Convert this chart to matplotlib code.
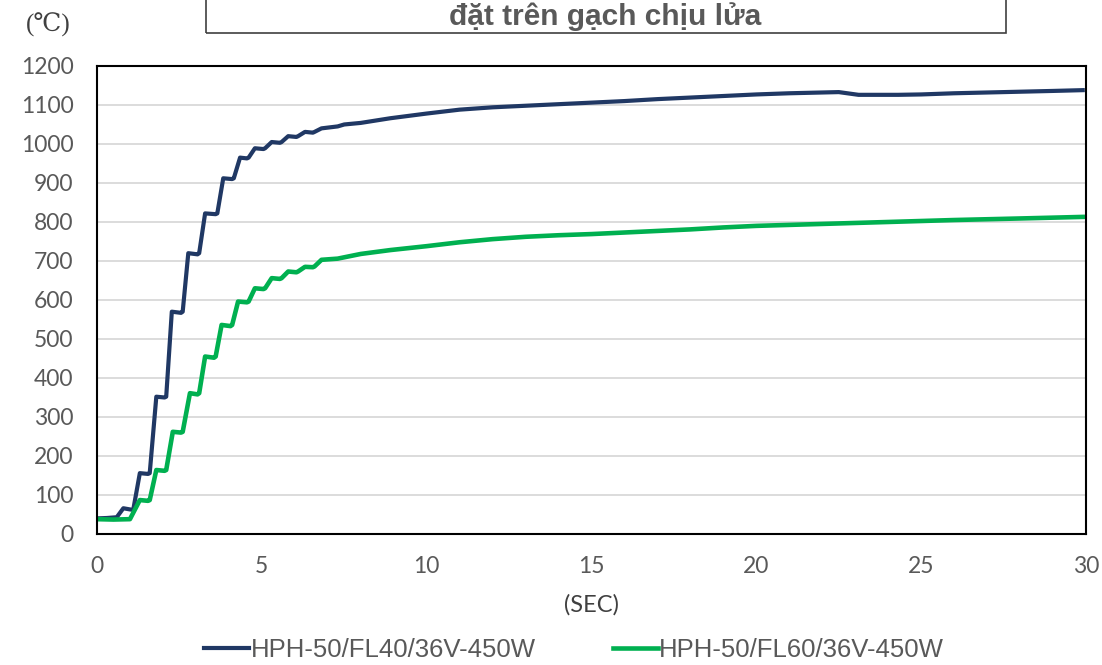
import matplotlib
matplotlib.use("Agg")
import matplotlib.pyplot as plt
from matplotlib.patches import Rectangle

# time (s) / temperature (C)
t_fl40 = [0, 0.3, 0.6, 0.8, 1.0, 1.1, 1.3, 1.55, 1.6, 1.8, 2.05, 2.1, 2.27, 2.55, 2.6,
          2.77, 3.05, 3.1, 3.28, 3.6, 3.65, 3.83, 4.1, 4.15, 4.34, 4.55, 4.6, 4.79, 5.05,
          5.1, 5.3, 5.55, 5.6, 5.8, 6.05, 6.1, 6.31, 6.55, 6.6, 6.81, 7.3, 7.5, 8.0, 8.9,
          10, 11, 12, 13, 14, 15, 16, 17, 18, 19, 20, 21, 22, 22.5, 23.1, 24.3, 25, 26,
          27, 28, 29, 29.9]
T_fl40 = [40, 41, 43, 66, 63, 62, 156, 154, 156, 352, 350, 352, 570, 567, 570,
          720, 717, 720, 822, 820, 822, 912, 910, 912, 965, 963, 965, 989, 987,
          989, 1005, 1003, 1005, 1020, 1018, 1020, 1031, 1029, 1031, 1040, 1045, 1050, 1054, 1066,
          1078, 1088, 1094, 1098, 1102, 1106, 1110, 1115, 1119, 1123, 1127, 1130, 1132, 1133, 1126, 1126, 1127, 1130,
          1132, 1134, 1136, 1138]

t_fl60 = [0, 0.5, 1.0, 1.3, 1.55, 1.6, 1.8, 2.05, 2.1, 2.3, 2.55, 2.6, 2.82, 3.05, 3.1,
          3.28, 3.55, 3.6, 3.78, 4.05, 4.1, 4.28, 4.55, 4.6, 4.79, 5.05, 5.1, 5.3, 5.55,
          5.6, 5.8, 6.05, 6.1, 6.31, 6.55, 6.6, 6.81, 7.3, 8.0, 8.9, 10, 11, 12, 13, 14,
          15, 16, 17, 18, 19, 20, 22, 24, 26, 28, 29.9]
T_fl60 = [38, 37, 38, 87, 85, 87, 164, 162, 164, 262, 260, 262, 361, 358, 361,
          455, 452, 455, 536, 533, 536, 596, 594, 596, 630, 628, 630, 656, 654,
          656, 673, 671, 673, 685, 684, 686, 703, 706, 718, 728, 738, 748, 756, 762, 766,
          769, 773, 777, 781, 786, 790, 795, 800, 805, 809, 813]

labels = ["HPH-50/FL40/36V-450W", "HPH-50/FL60/36V-450W"]
x_ticks = [0, 5, 10, 15, 20, 25, 30]
y_ticks = list(range(0, 1300, 100))

gray = "#595959"

fig = plt.figure(figsize=(11.02, 6.65), dpi=100)
ax = fig.add_axes([0.088, 0.197, 0.8975, 0.7038])

ax.plot(t_fl40, T_fl40, color="#203864", lw=3, label=labels[0], solid_joinstyle="round")
ax.plot(t_fl60, T_fl60, color="#00B050", lw=3.3, label=labels[1], solid_joinstyle="round")

ax.set_xlim(0, 30)
ax.set_ylim(0, 1200)
ax.set_xticks(x_ticks)
ax.set_yticks(y_ticks)
ax.yaxis.grid(True, color="#D9D9D9", lw=1.3)
ax.set_axisbelow(True)
ax.tick_params(length=0, labelcolor=gray, labelsize=16.5)
ax.tick_params(axis="x", pad=16)
ax.tick_params(axis="y", pad=17)
for lab in ax.get_xticklabels() + ax.get_yticklabels():
    lab.set_family("Lato")
for s in ax.spines.values():
    s.set_color("black")
    s.set_linewidth(1.5)

ax.set_xlabel("(SEC)", family="Lato", fontsize=17, color="#404040", labelpad=12)

# title box, cut off at the top
fig.patches.append(Rectangle((206 / 1102, 1 - 33 / 665), 800 / 1102, 0.2,
                             transform=fig.transFigure, fill=False,
                             edgecolor="#404040", lw=1.2))
fig.text(605 / 1102, 1 - 17 / 665, "đặt trên gạch chịu lửa", ha="center", va="center",
         family="Liberation Sans", weight="bold", fontsize=21.5, color="#595959")
fig.text(48 / 1102, 1 - 25 / 665, "(℃)", ha="center", va="center",
         family=["Liberation Serif", "DejaVu Serif"], fontsize=18, color="#404040")

fig.legend(loc="center", bbox_to_anchor=(0.521, 1 - 650 / 665), ncol=2, frameon=False,
           prop={"family": "Liberation Sans", "size": 18.5}, labelcolor=gray,
           handlelength=1.75, handletextpad=0.05, columnspacing=3.0)

fig.savefig("out.png", dpi=100)
